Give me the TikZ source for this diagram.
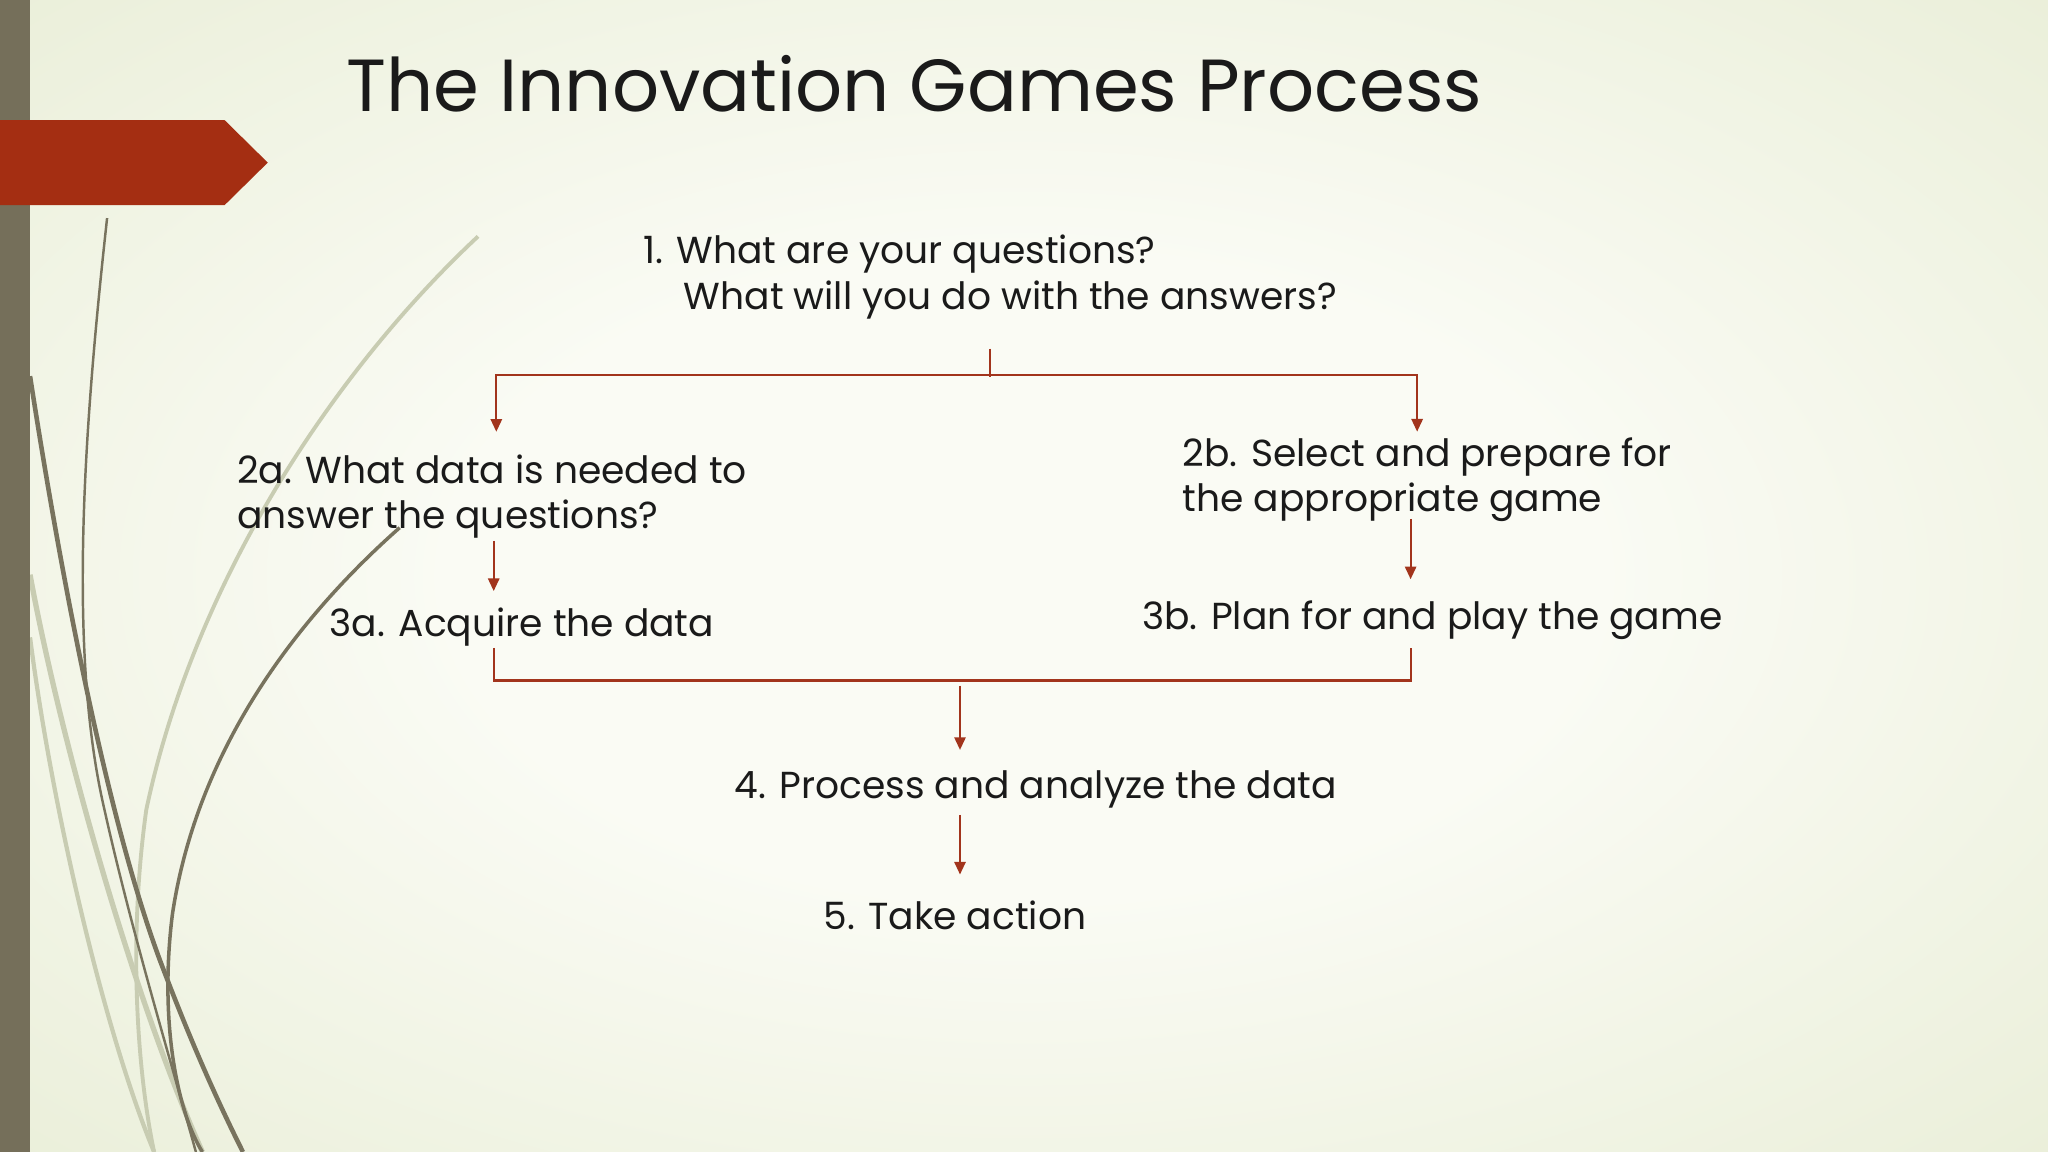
\documentclass[tikz,border=0pt]{standalone}
\usepackage{fontspec}
\setmainfont{Poppins}
\usetikzlibrary{arrows.meta,calc}

\definecolor{bgin}{RGB}{250,251,244}
\definecolor{bgout}{RGB}{224,231,200}
\definecolor{olivebar}{RGB}{117,111,90}
\definecolor{swoosh}{RGB}{120,115,94}
\definecolor{paleswoosh}{RGB}{200,204,178}
\definecolor{banner}{RGB}{164,46,18}
\definecolor{linkred}{RGB}{162,52,28}
\definecolor{ink}{RGB}{26,26,26}

\pgfdeclareradialshading{slidebg}{\pgfpoint{0bp}{0bp}}{%
  color(0bp)=(bgin); color(14bp)=(bgin); color(50bp)=(bgout); color(72bp)=(bgout)}

\tikzset{
  headline/.style={anchor=base west, inner sep=0pt, text=ink,
    font=\fontsize{21}{25}\selectfont},
  stage/.style={anchor=base west, inner sep=0pt, align=left, text=ink,
    font=\fontsize{10.7}{13}\selectfont},
  link/.style={draw=linkred, line width=0.6pt},
  flow/.style={link, -{Triangle[width=3.2pt,length=3.6pt]}},
}

\begin{document}
\begin{tikzpicture}[x=0.013061cm, y=-0.013061cm]
  \useasboundingbox (0,0) rectangle (1568,882);
  \shade[shading=slidebg] (0,0) rectangle (1568,882);

  % swooshes on the left
  \draw[paleswoosh, line width=1.1pt] (366,181) .. controls (260,280) and (150,440) .. (112,620)
    .. controls (98,720) and (105,820) .. (118,882);
  \draw[paleswoosh, line width=1.5pt] (23,440) .. controls (45,560) and (100,760) .. (155,882);
  \draw[paleswoosh, line width=1.2pt] (23,488) .. controls (40,620) and (80,790) .. (118,882);
  \draw[swoosh, line width=0.7pt] (82,167) .. controls (64,330) and (52,500) .. (80,620)
    .. controls (100,710) and (130,810) .. (150,882);
  \draw[swoosh, line width=1.3pt] (23,288) .. controls (45,430) and (80,620) .. (122,734)
    .. controls (145,795) and (165,840) .. (186,882);
  \draw[swoosh, line width=1pt] (306,404) .. controls (220,480) and (150,580) .. (132,700)
    .. controls (122,780) and (135,850) .. (155,882);

  \fill[olivebar] (0,0) rectangle (23,882);
  \fill[banner] (0,92) -- (172,92) -- (205,124.5) -- (172,157) -- (0,157) -- cycle;

  \node[headline] (title) at (265,85) {The Innovation Games Process};

  % base of a two-line node is its last line
  \node[stage] (q1) at (492,237) {1. What are your questions?\\
    \hspace*{0.405cm}What will you do with the answers?};
  \node[stage] (d2a) at (181,405) {2a. What data is needed to\\answer the questions?};
  \node[stage] (d2b) at (905,392) {2b. Select and prepare for\\the appropriate game};
  \node[stage] (d3a) at (252,487) {3a. Acquire the data};
  \node[stage] (d3b) at (874,482) {3b. Plan for and play the game};
  \node[stage] (d4) at (562,611) {4. Process and analyze the data};
  \node[stage] (d5) at (630,712) {5. Take action};

  \coordinate (forkL) at (380,287);
  \coordinate (forkR) at (1085,287);
  \coordinate (joinL) at (378,521);
  \coordinate (joinR) at (1080,521);
  \coordinate (merge) at (735,521);

  \draw[link] ($(q1.south)+(0,22)$) -- ($(q1.south |- forkL)+(0,2)$);
  \draw[flow] (forkR) -- (forkL) -- ($(forkL |- d2a.north)+(0,-17)$);
  \draw[flow] (forkL) -- (forkR) -- ($(forkR |- d2b.north)+(0,-4)$);
  \draw[flow] ($(joinL |- d2a.south)+(0,1)$) -- ($(joinL |- d3a.north)+(0,-12)$);
  \draw[flow] ($(joinR |- d2b.south)+(0,-3)$) -- ($(joinR |- d3b.north)+(0,-16)$);
  \draw[link] ($(joinL |- d3a.south)+(0,1)$) -- (joinL) -- (joinR) -- ($(joinR |- d3b.south)+(0,6)$);
  \draw[flow] ($(merge)+(0,4)$) -- ($(merge |- d4.north)+(0,-15)$);
  \draw[flow] ($(merge |- d4.south)+(0,5)$) -- ($(merge |- d5.north)+(0,-20)$);
\end{tikzpicture}
\end{document}
